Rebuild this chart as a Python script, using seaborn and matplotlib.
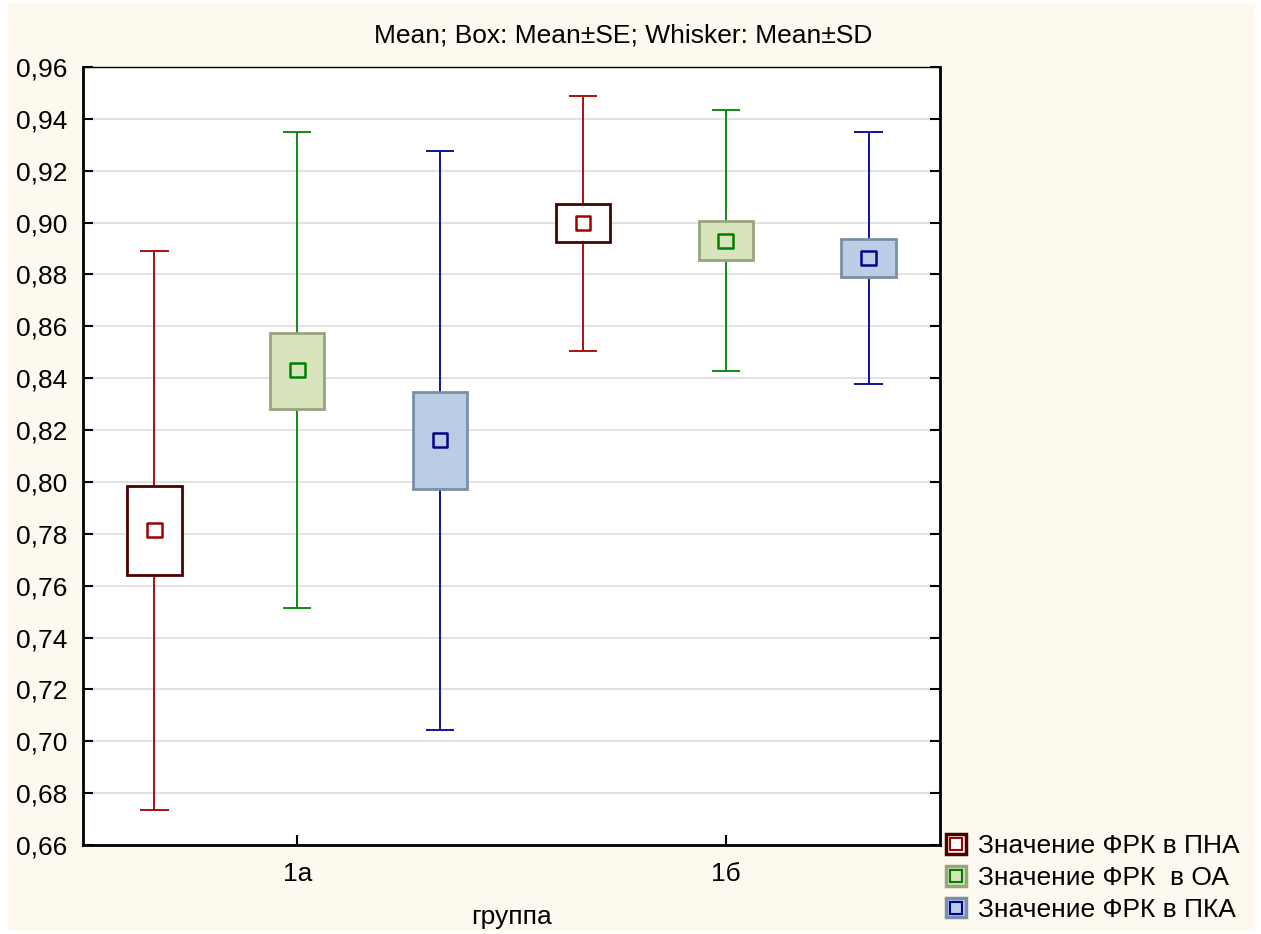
import numpy as np
import pandas as pd
import matplotlib
matplotlib.use("Agg")
import matplotlib.pyplot as plt
import seaborn as sns
from matplotlib.patches import Rectangle, Patch
from matplotlib.lines import Line2D
from matplotlib.legend_handler import HandlerTuple

# ---- data ----
groups = ["1а", "1б"]
series = ["Значение ФРК в ПНА", "Значение ФРК  в ОА", "Значение ФРК в ПКА"]
means = [[0.7814, 0.8431, 0.8162], [0.8998, 0.8929, 0.8863]]
se_hi = [[0.7984, 0.8574, 0.8347], [0.9072, 0.9006, 0.8937]]
se_lo = [[0.7641, 0.8281, 0.7973], [0.8925, 0.8856, 0.8790]]
sd_hi = [[0.8890, 0.9349, 0.9276], [0.9488, 0.9434, 0.9349]]
sd_lo = [[0.6735, 0.7514, 0.7043], [0.8505, 0.8428, 0.8377]]
yticks = [0.66, 0.68, 0.70, 0.72, 0.74, 0.76, 0.78, 0.80, 0.82, 0.84, 0.86,
          0.88, 0.90, 0.92, 0.94, 0.96]

line_cols = ["#A00000", "#008000", "#000090"]
box_faces = ["#FFFFFF", "#D8E4BC", "#B9CDE5"]
box_edges = ["#4A0000", "#98A67E", "#7A8FA8"]
offsets = [-1/3, 0, 1/3]

rows = []
for gi, g in enumerate(groups):
    for si, s in enumerate(series):
        rows.append(dict(group=g, gi=gi, series=s, si=si, x=gi + offsets[si],
                         mean=means[gi][si], se_hi=se_hi[gi][si], se_lo=se_lo[gi][si],
                         sd_hi=sd_hi[gi][si], sd_lo=sd_lo[gi][si]))
df = pd.DataFrame(rows)

sns.set_style("white")
plt.rcParams['font.family'] = ['Liberation Sans', 'DejaVu Sans']
plt.rcParams['text.color'] = 'black'
plt.rcParams['axes.labelcolor'] = 'black'
plt.rcParams['xtick.color'] = 'black'
plt.rcParams['ytick.color'] = 'black'
FS = 19

fig = plt.figure(figsize=(12.61, 9.34), dpi=100, facecolor="white")
fig.patches.append(Rectangle((8/1261, 3/934), (1255-8)/1261, (931-3)/934,
                             transform=fig.transFigure, facecolor="#FEF9EE",
                             edgecolor="none", zorder=-10))
ax = fig.add_axes([83/1261, 89/934, (940-83)/1261, (845-67)/934])
ax.set_facecolor("white")

for _, r in df.iterrows():
    si = r.si
    ax.vlines(r.x, r.sd_lo, r.sd_hi, color=line_cols[si], lw=1.3, zorder=2)
    ax.hlines([r.sd_lo, r.sd_hi], r.x - 0.033, r.x + 0.033, color=line_cols[si], lw=1.3, zorder=2)
    ax.bar(r.x, r.se_hi - r.se_lo, bottom=r.se_lo, width=0.127,
           color=box_faces[si], edgecolor=box_edges[si], linewidth=2.0, zorder=3)

sns.scatterplot(data=df, x="x", y="mean", hue="series", palette=line_cols,
                marker="s", s=110, legend=False, ax=ax, zorder=4)
coll = ax.collections[-1]
coll.set_facecolor([box_faces[i] for i in df.si])
coll.set_edgecolor([line_cols[i] for i in df.si])
coll.set_linewidth(1.8)

ax.set_xlim(-0.5, 1.5)
ax.set_ylim(0.66, 0.96)
ax.set_yticks(yticks)
ax.set_yticklabels([f"{v:.2f}".replace(".", ",") for v in yticks], fontsize=FS)
ax.set_xticks(range(len(groups)))
ax.set_xticklabels(groups, fontsize=FS)
ax.yaxis.grid(True, color="#DDDDDD", lw=1.2, zorder=0)
ax.set_axisbelow(True)
ax.tick_params(axis="y", direction="in", length=7, width=1.5, left=True, right=True, pad=11,
               labelcolor="black")
ax.tick_params(axis="x", direction="in", length=7, width=1.5, bottom=True, pad=12,
               labelcolor="black")
for side, sp in ax.spines.items():
    sp.set_color("black")
    sp.set_linewidth(1.0 if side == "top" else 2.0)
ax.set_xlabel("группа", fontsize=FS, labelpad=14, color="black")
ax.set_ylabel("")

fig.text(0.494, 0.962, "Mean; Box: Mean±SE; Whisker: Mean±SD", ha="center", va="center",
         fontsize=FS, color="black")

handles = []
for si in range(3):
    p = Patch(facecolor=box_faces[si], edgecolor=box_edges[si], linewidth=2.5)
    m = Line2D([], [], marker="s", markersize=8, markerfacecolor=box_faces[si],
               markeredgecolor=line_cols[si], markeredgewidth=1.5, linestyle="none")
    handles.append((p, m))
leg = fig.legend(handles, series, handler_map={tuple: HandlerTuple(ndivide=1, pad=0)},
                 loc="lower left", bbox_to_anchor=(946/1261, 12/934), frameon=False,
                 fontsize=FS, handlelength=0.75, handleheight=0.75, handletextpad=0.45,
                 labelspacing=0.3, borderaxespad=0, borderpad=0, labelcolor="black")

fig.savefig("out.png", dpi=100, facecolor=fig.get_facecolor())
